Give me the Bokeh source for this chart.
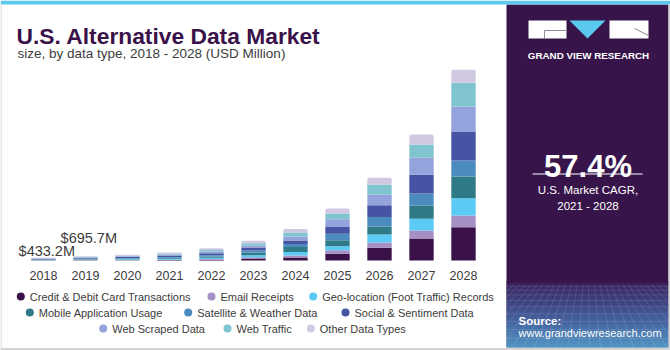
from bokeh.plotting import figure
from bokeh.models import Range1d, ColumnDataSource
from bokeh.embed import file_html
from bokeh.resources import INLINE
from bokeh.core.properties import value

# ---------------- data ----------------
years = [2018, 2019, 2020, 2021, 2022, 2023, 2024, 2025, 2026, 2027, 2028]
year_labels = [str(y) for y in years]

segments = ["Credit & Debit Card Transactions", "Email Receipts",
            "Geo-location (Foot Traffic) Records", "Mobile Application Usage",
            "Satellite & Weather Data", "Social & Sentiment Data",
            "Web Scraped Data", "Web Traffic", "Other Data Types"]

credit = [22.1, 36.2, 50, 70, 120, 330, 490, 1090, 2070, 3590, 5430]
email = [24.0, 38.4, 50, 70, 110, 210, 330, 600, 860, 1300, 1910]
geo = [50.3, 80.5, 110, 150, 210, 330, 560, 640, 1300, 1910, 2820]
mobile = [50.6, 81.3, 110, 150, 220, 440, 820, 980, 1300, 2170, 3540]
satellite = [45.8, 73.6, 100, 140, 210, 330, 490, 1030, 1580, 1960, 2610]
social = [73.6, 118.2, 160, 220, 320, 490, 560, 1140, 1910, 3050, 4730]
web_scraped = [57.0, 91.5, 125, 170, 270, 330, 650, 1250, 1740, 2770, 4080]
web_traffic = [56.5, 90.8, 125, 170, 270, 370, 650, 930, 1630, 2170, 3860]
other = [53.3, 85.2, 120, 160, 270, 370, 600, 820, 1090, 1630, 2120]

series = [credit, email, geo, mobile, satellite, social, web_scraped, web_traffic, other]

colors = ["#3a1249", "#a58fc4", "#5bcbf5", "#2e7a87", "#4b8bbd",
          "#4654a3", "#94a3dc", "#7fc4ce", "#d1c8e2"]

label_years = [2018, 2019]
label_texts = ["$433.2M", "$695.7M"]

title = "U.S. Alternative Data Market"
subtitle = "size, by data type, 2018 - 2028 (USD Million)"
cagr = "57.4%"
cagr_text = ["U.S. Market CAGR,", "2021 - 2028"]

FONT = value("Liberation Sans")

# ---------------- figure ----------------
W, H = 670, 350
PX_PER_YEAR = 42.0
X0_PX = 43.0          # pixel centre of first bar
BASE_PX = 260.0       # pixel of the zero line
UNITS_PER_PX = 163.0  # USD million per pixel

x_start = years[0] - X0_PX / PX_PER_YEAR
x_end = x_start + W / PX_PER_YEAR
y_start = -(H - BASE_PX) * UNITS_PER_PX
y_end = BASE_PX * UNITS_PER_PX

p = figure(width=W, height=H, output_backend="svg", toolbar_location=None,
           x_range=Range1d(x_start, x_end), y_range=Range1d(y_start, y_end),
           x_axis_location=None, y_axis_location=None, min_border=0)
p.outline_line_color = None
p.xgrid.visible = False
p.ygrid.visible = False
p.background_fill_color = "white"
p.border_fill_color = "white"
p.extra_x_ranges = {"px": Range1d(0, W)}
p.extra_y_ranges = {"py": Range1d(H, 0)}

PX = dict(x_range_name="px", y_range_name="py")

# ---------------- bars ----------------
data = {"year": years}
for name, vals in zip(segments, series):
    data[name] = vals
src = ColumnDataSource(data)
rs = p.vbar_stack(segments, x="year", width=0.58, color=colors, line_color=None, source=src)
try:
    rs[-1].glyph.border_radius = {"top_left": 2, "top_right": 2, "bottom_left": 0, "bottom_right": 0}
except Exception:
    pass

# year labels
p.text(x=years, y=[0] * len(years), text=year_labels, y_offset=15,
       text_align="center", text_baseline="alphabetic", text_font=FONT,
       text_font_size="12.5px", text_color="#3c3c3c")

# value labels
totals = [sum(s[i] for s in series) for i in range(len(years))]
label_offsets = [-6.6, -18.4]
for yr, txt, off in zip(label_years, label_texts, label_offsets):
    idx = years.index(yr)
    p.text(x=[yr], y=[totals[idx]], text=[txt], x_offset=3.3, y_offset=off,
           text_align="center", text_baseline="alphabetic", text_font=FONT,
           text_font_size="14.5px", text_color="#3c3c3c")

# ---------------- titles ----------------
p.text(x=[16], y=[35], text=[title], text_font=FONT, text_font_size="22.8px",
       text_font_style="bold", text_color="#3a1249", text_baseline="alphabetic", **PX)
p.text(x=[17], y=[52.5], text=[subtitle], text_font=FONT, text_font_size="13.5px",
       text_color="#3c3c3c", text_baseline="alphabetic", **PX)

# ---------------- legend (manual, centred rows) ----------------
legend_rows = [[0, 1, 2], [3, 4, 5], [6, 7, 8]]
legend_text_x = [[29.3, 220.0, 321.7], [38.3, 196.7, 354.0], [111.7, 236.0, 319.3]]
legend_y = [296, 312, 328]
for row, xs, yy in zip(legend_rows, legend_text_x, legend_y):
    for i, tx in zip(row, xs):
        p.scatter(x=[tx - 9], y=[yy], size=8, color=colors[i], line_color=None, **PX)
        p.text(x=[tx], y=[yy], text=[segments[i]], text_font=FONT, text_font_size="11px",
               text_color="#3c3c3c", text_baseline="middle", **PX)

# ---------------- right panel ----------------
PANEL = "#37154b"
PL, PR, PT, PB = 506, 668, 4, 347
p.quad(left=[PL], right=[PR], top=[PT], bottom=[PB], color=PANEL, line_color=None, **PX)


def hex2rgb(h):
    h = h.lstrip("#")
    return [int(h[i:i + 2], 16) for i in (0, 2, 4)]


stops = [(281, "#37154b"), (284, "#3b2d68"), (300, "#41508f"), (320, "#4a7dbb"), (347, "#5cc0ec")]
gy, gcol = [], []
yy = 281.0
while yy < PB:
    for (a, ca), (b, cb) in zip(stops[:-1], stops[1:]):
        if a <= yy <= b:
            t = (yy - a) / (b - a)
            c1, c2 = hex2rgb(ca), hex2rgb(cb)
            c = [round(c1[k] + (c2[k] - c1[k]) * t) for k in range(3)]
            gcol.append("#%02x%02x%02x" % tuple(c))
            gy.append(yy)
            break
    yy += 1.0
p.quad(left=[PL] * len(gy), right=[PR] * len(gy), top=gy, bottom=[g + 1.05 for g in gy],
       color=gcol, line_color=None, **PX)

# perspective mesh
mx0, mx1, my0, my1 = [], [], [], []
for k in range(1, 11):
    yk = 284 + 63 * (k / 10) ** 1.5
    mx0.append(PL); mx1.append(PR); my0.append(yk); my1.append(yk)
vx, vy = 587.0, 215.0
for xb in range(380, 800, 11):
    def pt(yv):
        return vx + (xb - vx) * (yv - vy) / (PB - vy)
    ya, yb = 284.0, float(PB)
    xa, xbb = pt(ya), pt(yb)
    if (xa < PL and xbb < PL) or (xa > PR and xbb > PR):
        continue
    for edge in (PL, PR):
        if (xa - edge) * (xbb - edge) < 0:
            yc = vy + (edge - vx) * (PB - vy) / (xb - vx)
            if (xa < PL or xa > PR):
                xa, ya = edge, yc
            else:
                xbb, yb = edge, yc
    mx0.append(xa); mx1.append(xbb); my0.append(ya); my1.append(yb)
p.segment(x0=mx0, y0=my0, x1=mx1, y1=my1, line_color="white", line_alpha=0.16,
          line_width=0.7, **PX)

# logo
p.quad(left=[528, 609], right=[566, 648], top=[20, 20], bottom=[38, 38],
       color="white", line_color=None, **PX)
p.patch(x=[569, 605, 587], y=[20, 20, 38], color="#5bc8f0", line_color=None, **PX)
p.segment(x0=[544, 544, 634], y0=[30, 30, 28], x1=[566, 544, 648], y1=[30, 37.5, 35],
          line_color="#8a8a9a", line_width=1, **PX)
p.text(x=[588], y=[54.5], text=["GRAND VIEW RESEARCH"], text_font=FONT, text_font_size="9.8px",
       text_font_style="bold", text_color="white", text_align="center",
       text_baseline="alphabetic", **PX)

# CAGR
p.text(x=[587.5], y=[166], text=[cagr], text_font=FONT, text_font_size="31px",
       text_font_style="bold", text_color="white", text_align="center",
       text_baseline="alphabetic", **PX)
p.segment(x0=[532], y0=[173.5], x1=[642], y1=[173.5], line_color="white", line_width=1.2, **PX)
p.text(x=[587.5, 587.5], y=[189.5, 205], text=cagr_text, text_font=FONT, text_font_size="11.5px",
       text_color="white", text_align="center", text_baseline="alphabetic", **PX)

# source
p.text(x=[518], y=[320], text=["Source:"], text_font=FONT, text_font_size="11.5px",
       text_font_style="bold", text_color="white", text_baseline="alphabetic", **PX)
p.text(x=[518], y=[332.5], text=["www.grandviewresearch.com"], text_font=FONT,
       text_font_size="11px", text_color="white", text_baseline="alphabetic", **PX)

# frame: top stripe and grey borders
p.quad(left=[0], right=[W], top=[0], bottom=[4], color="#5cc8ee", line_color=None, **PX)
p.segment(x0=[0.5, 0, 669], y0=[4, 348.5, 4], x1=[0.5, W, 669], y1=[H, 348.5, H],
          line_color="#d4d4d4", line_width=[1, 2, 2], **PX)

open("out.html", "w").write(file_html(p, INLINE))
